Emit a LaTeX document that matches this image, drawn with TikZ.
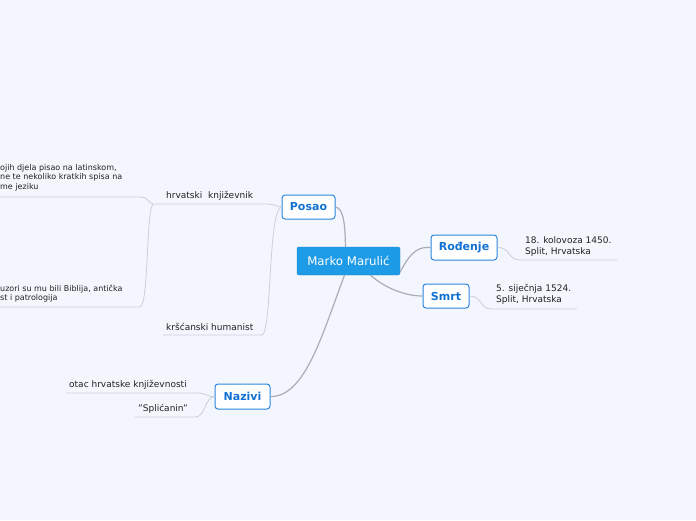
\documentclass[tikz,border=0pt]{standalone}
\usepackage{fontspec}
\setmainfont{DejaVu Sans}
\definecolor{bg}{HTML}{F4F6FE}
\definecolor{mainfill}{HTML}{1E9BE6}
\definecolor{topicblue}{HTML}{2A86DC}
\definecolor{topictext}{HTML}{1272D4}
\definecolor{mainline}{HTML}{A9ADB5}
\definecolor{leafline}{HTML}{CBCFD8}
\definecolor{leaftext}{HTML}{222222}
\begin{document}
\begin{tikzpicture}[x=1pt,y=-1pt,
  mainbox/.style={fill=mainfill,draw=mainfill!85!black,line width=0.4pt,rounded corners=2pt,text=white,font=\fontsize{11.8}{13}\selectfont,minimum width=103pt,minimum height=28pt,inner sep=0pt},
  topic/.style={fill=white,draw=topicblue,line width=1pt,rounded corners=3pt,text=topictext,font=\fontsize{11}{12}\selectfont\bfseries,minimum height=24pt,inner sep=0pt},
  leaf/.style={text=leaftext,font=\fontsize{9}{11}\selectfont,inner sep=0pt,align=left},
  leafs/.style={text=leaftext,font=\fontsize{8}{9.2}\selectfont,inner sep=0pt,align=left},
  mline/.style={draw=mainline,line width=1.2pt},
  lline/.style={draw=leafline,line width=0.8pt}]
\fill[bg] (0,0) rectangle (696,520);
\useasboundingbox (0,0) rectangle (696,520);

% main and topic nodes
\node[mainbox] (mm) at (348.5,261) {Marko Marulić};
\node[topic,minimum width=53pt] (posao) at (308.5,207) {Posao};
\node[topic,minimum width=66pt,minimum height=25pt] (rod) at (464,247.5) {Rođenje};
\node[topic,minimum width=46pt] (smrt) at (446,296) {Smrt};
\node[topic,minimum width=55pt,minimum height=25pt] (naz) at (242.5,396.5) {Nazivi};

% leaf texts
\node[leaf,anchor=west] (hk) at (166,195.5) {hrvatski\ \ književnik};
\node[leaf,anchor=west] (kh) at (166,326.5) {kršćanski humanist};
\node[leafs,anchor=north west] (t1) at (0,164.5) {ojih djela pisao na latinskom,\\ne te nekoliko kratkih spisa na\\me jeziku};
\node[leafs,anchor=north west] (t2) at (0,284.5) {uzori su mu bili Biblija, antička\\st i patrologija};
\node[leaf,anchor=north west] (rt) at (525,236) {18. kolovoza 1450.\\Split, Hrvatska};
\node[leaf,anchor=north west] (st) at (496,284) {5. siječnja 1524.\\Split, Hrvatska};
\node[leaf,anchor=west] (ot) at (69,384.5) {otac hrvatske književnosti};
\node[leaf,anchor=west] (sp) at (138,408.5) {\char34 Splićanin\char34};

% coordinates for leaf line ends
\coordinate (hkR) at (266,204);
\coordinate (hkL) at (153,204);
\coordinate (t1R) at (140,197);
\coordinate (t1L) at (0,197);
\coordinate (t2R) at (140,307);
\coordinate (t2L) at (0,307);
\coordinate (khR) at (262,335);
\coordinate (khL) at (163,335);
\coordinate (rtL) at (520,260);
\coordinate (rtR) at (617,260);
\coordinate (stL) at (491,309);
\coordinate (stR) at (577,309);
\coordinate (otR) at (198,393);
\coordinate (otL) at (66,393);
\coordinate (spR) at (195,417);
\coordinate (spL) at (135,417);

% main connectors
\draw[mline] (posao.east) .. controls (345,208) and (345,232) .. ([xshift=-3pt]mm.north);
\draw[mline] ([yshift=-11pt]mm.east) .. controls (412,249) and (420,247) .. (rod.west);
\draw[mline] ([xshift=22pt]mm.south) .. controls (385,288) and (405,296) .. (smrt.west);
\draw[mline] ([xshift=-4pt]mm.south) .. controls (322,335) and (305,397) .. (naz.east);

% posao leaves
\draw[lline] (posao.west) .. controls (276,206) and (274,204) .. (hkR) -- (hkL);
\draw[lline] (posao.west) .. controls (268,210) and (272,332) .. (khR) -- (khL);
\draw[lline] (hkL) .. controls (148,203) and (149,197) .. (t1R) -- (t1L);
\draw[lline] (hkL) .. controls (146,210) and (149,304) .. (t2R) -- (t2L);

% other leaves
\draw[lline] (rod.east) .. controls (510,247) and (508,260) .. (rtL) -- (rtR);
\draw[lline] (smrt.east) .. controls (482,296) and (480,309) .. (stL) -- (stR);
\draw[lline] (naz.west) .. controls (207,397) and (206,393) .. (otR) -- (otL);
\draw[lline] (naz.west) .. controls (204,398) and (206,417) .. (spR) -- (spL);
\end{tikzpicture}
\end{document}
